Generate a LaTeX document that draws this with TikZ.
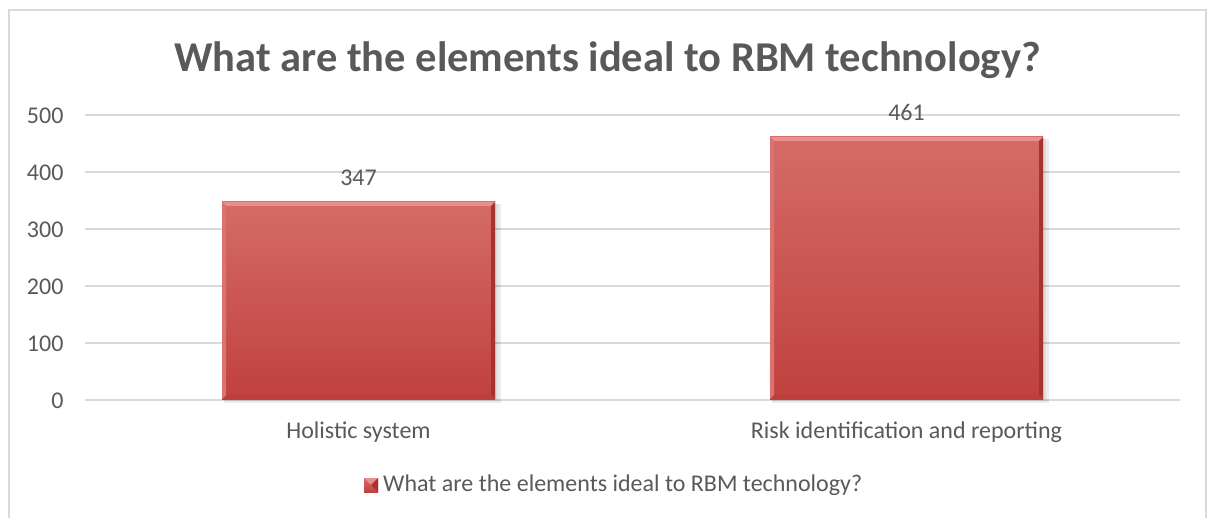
\documentclass[tikz,border=0pt]{standalone}
\usepackage{fontspec}
\setmainfont{Carlito}
\usetikzlibrary{positioning}
\definecolor{txtgray}{HTML}{595959}
\definecolor{gridgray}{HTML}{D9D9D9}
\definecolor{bartop}{HTML}{D56B68}
\definecolor{barbot}{HTML}{C0413E}
\definecolor{bevlight}{HTML}{EC8E8B}
\definecolor{bevdark}{HTML}{A8322F}
\tikzset{
  gridline/.style={draw=gridgray, line width=1.3pt},
  ticklabel/.style={anchor=east, text=txtgray, font=\fontsize{24}{28}\selectfont},
  catlabel/.style={anchor=base, text=txtgray, font=\fontsize{24}{28}\selectfont},
  valuelabel/.style={text=txtgray, font=\fontsize{24}{28}\selectfont},
  charttitle/.style={anchor=base, text=txtgray, font=\fontsize{42.5}{50}\selectfont\bfseries}
}
% bar with bevel: left, right, top (px, y downwards)
\newcommand{\chartbar}[3]{
  \fill[black, opacity=0.08] (#1+2,#3+2) rectangle (#2+6,403);
  \fill[black, opacity=0.06] (#1+2,#3+2) rectangle (#2+3,401);
  \shade[top color=bartop, bottom color=barbot] (#1,#3) rectangle (#2,399);
  \fill[bevlight] (#1,#3) -- (#2,#3) -- (#2-4,#3+4) -- (#1+4,#3+4) -- cycle;
  \fill[bevdark] (#2,#3) -- (#2,399) -- (#2-4,395) -- (#2-4,#3+4) -- cycle;
  \fill[barbot!85!bevdark] (#1,399) -- (#2,399) -- (#2-4,395) -- (#1+4,395) -- cycle;
  \fill[bartop!80!bevlight] (#1,#3) -- (#1+4,#3+4) -- (#1+4,395) -- (#1,399) -- cycle;
}

\begin{document}
\begin{tikzpicture}[x=1pt, y=-1pt]
  \useasboundingbox (0,0) rectangle (1209,518);
  \draw[gridgray, line width=1.3pt] (9,524) -- (9,10) -- (1206,10) -- (1206,524);

  \node[charttitle] (title) at (607.5,71.5) {What are the elements ideal to RBM technology?};

  % grid and axis
  \foreach \v [count=\i from 0] in {0,100,...,500} {
    \draw[gridline] (85,400-57*\i) -- (1180,400-57*\i);
    \node[ticklabel] (tick\i) at (67,400.5-57*\i) {\v};
  }

  % bars
  \chartbar{222}{495}{202}
  \chartbar{770}{1043}{137}
  \coordinate (bar1top) at (358.5,202);
  \coordinate (bar2top) at (906.5,137);
  \node[valuelabel, above=13pt of bar1top] (val1) {347};
  \node[valuelabel, above=13pt of bar2top] (val2) {461};

  \node[catlabel] (cat1) at (358.5,438.5) {Holistic system};
  \node[catlabel] (cat2) at (906.5,438.5) {Risk identification and reporting};

  % legend
  \shade[top color=bartop, bottom color=barbot] (364,478) rectangle (378,492);
  \fill[bevlight] (364,478) -- (378,478) -- (371,485) -- cycle;
  \fill[bevdark] (378,478) -- (378,492) -- (371,485) -- cycle;
  \node[anchor=base west, inner sep=0pt, text=txtgray, font=\fontsize{24}{28}\selectfont] (legend) at (383,491.5) {What are the elements ideal to RBM technology?};
\end{tikzpicture}
\end{document}
